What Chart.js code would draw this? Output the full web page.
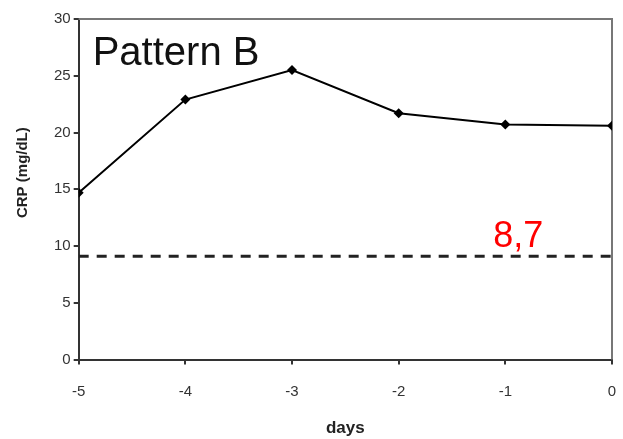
<!DOCTYPE html>
<html>
<head>
<meta charset="utf-8">
<script src="https://cdn.jsdelivr.net/npm/chart.js@4/dist/chart.umd.min.js"></script>
<style>
  html, body { margin: 0; padding: 0; background: #fff; }
  #wrap { width: 623px; height: 439px; }
</style>
</head>
<body>
<div id="wrap"><canvas id="crpChart" width="623" height="439"></canvas></div>
<script>
const days = [-5, -4, -3, -2, -1, 0];
const crpValues = [14.7, 22.9, 25.5, 21.7, 20.7, 20.6];
const thresholdValue = 9.1;
const thresholdLabel = '8,7';
const panelTitle = 'Pattern B';

// frame + labels drawn on top of the chart area
const extras = {
    id: 'extras',
    beforeDatasetsDraw(chart) {
        const { ctx, chartArea: a } = chart;
        ctx.save();
        ctx.strokeStyle = '#777';
        ctx.lineWidth = 2;
        ctx.beginPath();
        ctx.moveTo(a.left, a.top);
        ctx.lineTo(a.right, a.top);
        ctx.lineTo(a.right, a.bottom);
        ctx.stroke();
        ctx.restore();
    },
    afterDatasetsDraw(chart) {
        const { ctx, chartArea: a, scales } = chart;
        ctx.save();
        ctx.fillStyle = '#111';
        ctx.font = '40px "Liberation Sans", Arial, sans-serif';
        ctx.textBaseline = 'alphabetic';
        ctx.textAlign = 'left';
        ctx.fillText(panelTitle, a.left + 14, a.top + 46);

        ctx.fillStyle = '#ff0000';
        ctx.font = '36px "Liberation Sans", Arial, sans-serif';
        ctx.textAlign = 'left';
        ctx.fillText(thresholdLabel, scales.x.getPixelForValue(-1) - 12, scales.y.getPixelForValue(thresholdValue) - 9);
        ctx.restore();
    }
};

new Chart(document.getElementById('crpChart').getContext('2d'), {
    type: 'line',
    data: {
        datasets: [{
            data: days.map((d, i) => ({ x: d, y: crpValues[i] })),
            borderColor: '#000',
            backgroundColor: '#000',
            borderWidth: 2,
            pointStyle: 'rectRot',
            pointRadius: 5,
            pointBorderWidth: 0,
            tension: 0
        }, {
            data: [{ x: days[0], y: thresholdValue }, { x: days[days.length - 1], y: thresholdValue }],
            borderColor: '#222',
            borderWidth: 3,
            borderDash: [10, 8],
            pointRadius: 0,
            tension: 0
        }]
    },
    plugins: [extras],
    options: {
        responsive: false,
        animation: false,
        layout: { padding: { top: 19, right: 11, bottom: 0, left: 14 } },
        plugins: {
            legend: { display: false },
            tooltip: { enabled: false }
        },
        scales: {
            x: {
                type: 'linear',
                min: -5,
                max: 0,
                afterFit(scale) {
                    // tick padding should not widen the side margins
                    scale.paddingLeft = 0;
                    scale.paddingRight = 4;
                },
                ticks: {
                    stepSize: 1,
                    padding: 18,
                    color: '#333',
                    font: { family: '"Liberation Sans", Arial, sans-serif', size: 15 }
                },
                grid: { drawOnChartArea: false, drawTicks: true, tickLength: 5, color: '#333', lineWidth: 2 },
                border: { display: true, color: '#333', width: 2 },
                title: {
                    display: true,
                    text: 'days',
                    color: '#222',
                    padding: { top: 0, bottom: 0 },
                    font: { family: '"Liberation Sans", Arial, sans-serif', size: 17, weight: 'bold' }
                }
            },
            y: {
                min: 0,
                max: 30,
                ticks: {
                    stepSize: 5,
                    padding: 3,
                    color: '#333',
                    font: { family: '"Liberation Sans", Arial, sans-serif', size: 15 }
                },
                grid: { drawOnChartArea: false, drawTicks: true, tickLength: 5, color: '#333', lineWidth: 2 },
                border: { display: true, color: '#333', width: 2 },
                title: {
                    display: true,
                    // leading spaces nudge the rotated title upward like the original
                    text: '\u00a0'.repeat(8) + 'CRP (mg/dL)',
                    color: '#222',
                    padding: { top: 0, bottom: 19 },
                    font: { family: '"Liberation Sans", Arial, sans-serif', size: 15, weight: 'bold' }
                }
            }
        }
    }
});
</script>
</body>
</html>
